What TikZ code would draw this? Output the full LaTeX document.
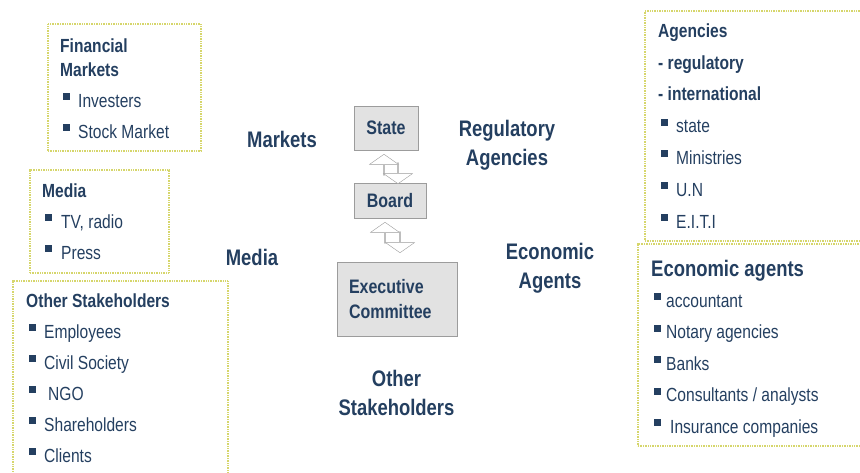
\documentclass[tikz,border=0pt]{standalone}
\usepackage{fontspec}
\setmainfont{Liberation Sans}[FakeStretch=0.82]
\usepackage{tikz}
\usetikzlibrary{positioning, shapes.arrows, calc}
\definecolor{navy}{HTML}{243F60}
\definecolor{dotyellow}{HTML}{D6D66C}
\definecolor{boxgray}{HTML}{E2E2E2}
\definecolor{edgegray}{HTML}{9C9C9C}
% square bullet, optional width of the bullet column
\newcommand\sqb[1][18pt]{\makebox[#1][l]{\hspace{3pt}\rule[7pt]{7pt}{7pt}}}

\begin{document}
\begin{tikzpicture}[x=1pt, y=-1pt, text=navy]
    \tikzstyle{panel} = [draw=dotyellow, line width=1.8pt, dash pattern=on 1pt off 0.7pt, anchor=north west, inner sep=0pt]
    % lists are placed by the baseline of their last line
    \tikzstyle{list} = [anchor=base west, inner sep=0pt, align=left, font=\fontsize{19}{31}\selectfont]
    \tikzstyle{role} = [draw=edgegray, fill=boxgray, font=\bfseries\fontsize{19.5}{25}\selectfont]
    \tikzstyle{tag} = [align=center, font=\bfseries\fontsize{22.5}{29}\selectfont]
    \tikzstyle{flow} = [single arrow, draw=edgegray, fill=white, inner sep=0pt, single arrow tip angle=110, single arrow head extend=4pt, minimum height=21pt, minimum width=29pt]
    \useasboundingbox (0,0) rectangle (860,472);
    \clip (0,0) rectangle (860,472);

    % the company in the middle
    \node [role, minimum width=64pt, minimum height=44pt] (state) at (386,128) {State};
    \node [role, minimum width=72pt, minimum height=35pt] (board) at (390,200.5) {Board};
    \node [role, minimum height=74pt, text width=96pt, inner xsep=12pt, align=left] (exec) at (397,299) {Executive\\Committee};
    \node [flow, shape border rotate=90] (upA) at (384,165) {};
    \node [flow, shape border rotate=270] (downA) at (398,173) {};
    \node [flow, shape border rotate=90] (upB) at (385,233) {};
    \node [flow, shape border rotate=270] (downB) at (400,242) {};

    \node [tag] (markets) at (282,139) {Markets};
    \node [tag] (regag) at (507,145.5) {Regulatory\\Agencies};
    \node [tag] (medialbl) at (252,257.5) {Media};
    \node [tag] (econlbl) at (550,268) {Economic\\Agents};
    \node [tag] (otherlbl) at (396.5,392.5) {Other\\Stakeholders};

    % stakeholder lists on the left
    \node [panel, minimum width=153pt, minimum height=127pt] (finbox) at (47,23) {};
    \node [list] (fin) at ($(finbox.north west)+(13,115)$) {\textbf{Financial}\\[-7pt]\textbf{Markets}\\\sqb Investers\\\sqb Stock Market};
    \node [panel, minimum width=139pt, minimum height=103pt] (mediabox) at (29,169) {};
    \node [list] (media) at ($(mediabox.north west)+(13,90)$) {\textbf{Media}\\\sqb[19pt]TV, radio\\\sqb[19pt]Press};
    \node [panel, minimum width=215pt, minimum height=230pt] (otherbox) at (12,280) {};
    \node [list] (other) at ($(otherbox.north west)+(14,182)$) {\textbf{Other Stakeholders}\\\sqb Employees\\\sqb Civil Society\\\sqb\hspace{4pt}NGO\\\sqb Shareholders\\\sqb Clients};

    % and on the right
    \node [panel, minimum width=240pt, minimum height=230pt] (agbox) at (644,10) {};
    \node [list, font=\fontsize{19}{31.8}\selectfont] (agencies) at ($(agbox.north west)+(14,218)$) {\textbf{Agencies}\\\textbf{- regulatory}\\\textbf{- international}\\\sqb state\\\sqb Ministries\\\sqb U.N\\\sqb E.I.T.I};
    \node [panel, minimum width=240pt, minimum height=202pt] (econbox) at (637,243) {};
    \node [list, font=\fontsize{19}{31.4}\selectfont] (econ) at ($(econbox.north west)+(14,190)$) {{\bfseries\fontsize{22.5}{27}\selectfont Economic agents}\\\sqb[15pt]accountant\\\sqb[15pt]Notary agencies\\\sqb[15pt]Banks\\\sqb[15pt]Consultants / analysts\\\sqb[15pt]\hspace{4pt}Insurance companies};
\end{tikzpicture}
\end{document}
